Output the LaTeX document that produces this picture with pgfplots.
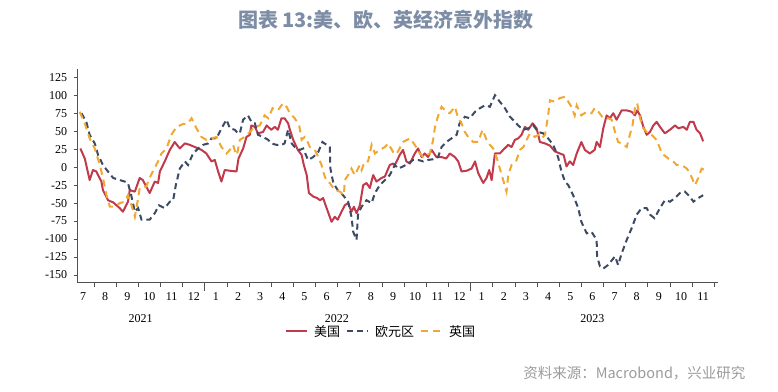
\documentclass[border=0pt]{standalone}
\usepackage{pgfplots}
\pgfplotsset{compat=1.18}
\usepackage{fontspec}
\newfontfamily\tickfont{Liberation Serif}
\newfontfamily\cjk{Noto Sans CJK SC}
\definecolor{usred}{RGB}{193,58,76}
\definecolor{eunavy}{RGB}{60,74,100}
\definecolor{ukorange}{RGB}{240,168,50}
\definecolor{titlecol}{RGB}{125,141,165}
\definecolor{srcgray}{RGB}{155,155,155}
\definecolor{axisgray}{RGB}{80,80,80}
\begin{document}
\begin{tikzpicture}
\useasboundingbox (0,0) rectangle (778pt,-391pt);
\node[font=\cjk\bfseries\fontsize{20}{24}\selectfont, text=titlecol] at (386pt,-20pt) {图表 13:美、欧、英经济意外指数};
\node[font=\cjk\fontsize{14.5}{17}\selectfont, text=srcgray, anchor=east] at (749pt,-373pt) {资料来源：Macrobond，兴业研究};
\begin{axis}[
  scale only axis, width=640.3pt, height=213.7pt,
  at={(77.7pt,-282.7pt)}, anchor=south west,
  xmin=0.26, xmax=29.17, ymin=-160.7, ymax=136.5,
  axis x line*=bottom, axis y line*=left,
  xtick pos=bottom, ytick pos=left,
  axis line style={draw=axisgray, line width=0.9pt, -},
  tick align=outside,
  major tick length=0pt, minor tick length=4pt,
  every tick/.style={draw=axisgray, line width=0.8pt},
  ytick={-150,-125,...,125},
  minor ytick={-150,-125,...,125},
  xtick={0.5,1.5,2.5,3.5,4.5,5.5,6.5,7.5,8.5,9.5,10.5,11.5,12.5,13.5,14.5,15.5,16.5,17.5,18.5,19.5,20.5,21.5,22.5,23.5,24.5,25.5,26.5,27.5,28.5},
  xticklabels={7,8,9,10,11,12,1,2,3,4,5,6,7,8,9,10,11,12,1,2,3,4,5,6,7,8,9,10,11},
  minor xtick={1,2,...,29},
  extra x ticks={6,18}, extra x tick labels={},
  extra x tick style={major tick length=8pt},
  /pgf/number format/assume math mode=true,
  xticklabel style={font=\tickfont\fontsize{12}{14}\selectfont, yshift=-6pt},
  yticklabel style={font=\tickfont\fontsize{12}{14}\selectfont, xshift=-7pt},
  clip mode=individual,
  legend columns=3,
  legend style={at={(0.4737,-0.228)}, anchor=center, draw=none, fill=none,
    font=\cjk\fontsize{13}{15}\selectfont, column sep=4pt, inner sep=0pt},
  legend image code/.code={\draw[#1] (0pt,0pt) -- (21pt,0pt);},
]
\addplot[usred, line width=2pt, line join=round] coordinates {
(0.38,26)(0.58,12)(0.8,-18)(0.95,-4)(1.1,-6)(1.33,-20)(1.4,-32)(1.63,-46)(1.86,-49)(2.16,-57)(2.3,-62)(2.53,-48)(2.61,-32)(2.84,-34)(3.06,-15)(3.2,-18)(3.51,-36)(3.74,-20)(3.89,-22)(3.97,-6)(4.19,8)(4.42,24)(4.64,35)(4.87,26)(5.1,33)(5.32,31)(5.55,28)(5.85,24)(6.07,19)(6.3,8)(6.45,10)(6.6,-6)(6.75,-20)(6.9,-4)(7.13,-5)(7.43,-6)(7.52,12)(7.73,26)(7.88,42)(8.03,45)(8.1,58)(8.26,56)(8.4,47)(8.63,49)(8.79,58)(9.0,52)(9.16,56)(9.3,52)(9.46,68)(9.6,68)(9.76,61)(9.84,52)(9.99,38)(10.2,24)(10.37,17)(10.47,3)(10.6,-11)(10.7,-36)(10.9,-41)(11.07,-43)(11.2,-46)(11.34,-43)(11.5,-57)(11.64,-69)(11.72,-76)(11.87,-69)(12.0,-73)(12.17,-62)(12.32,-53)(12.47,-50)(12.62,-62)(12.73,-55)(12.85,-64)(13.0,-53)(13.15,-25)(13.3,-22)(13.45,-29)(13.6,-11)(13.75,-20)(13.98,-15)(14.13,-13)(14.35,3)(14.5,5)(14.58,3)(14.8,17)(14.95,24)(15.1,8)(15.26,5)(15.48,19)(15.63,26)(15.79,14)(15.93,19)(16.08,14)(16.24,24)(16.46,14)(16.69,14)(16.9,12)(17.06,19)(17.29,14)(17.44,8)(17.59,-6)(17.82,-5)(18.04,-2)(18.2,8)(18.34,-8)(18.57,-22)(18.72,-15)(18.84,-4)(18.95,-18)(19.1,19)(19.32,19)(19.47,24)(19.7,31)(19.85,28)(20.0,38)(20.15,40)(20.3,45)(20.45,56)(20.6,52)(20.8,61)(20.98,54)(21.13,35)(21.36,33)(21.58,30)(21.8,22)(22.03,19)(22.2,17)(22.33,1)(22.48,8)(22.63,3)(22.79,19)(23.0,35)(23.16,24)(23.38,19)(23.6,24)(23.69,35)(23.84,28)(23.99,54)(24.14,72)(24.29,68)(24.44,75)(24.59,66)(24.82,79)(25.05,79)(25.27,77)(25.42,72)(25.52,79)(25.65,72)(25.8,56)(25.95,45)(26.1,49)(26.25,58)(26.4,63)(26.55,56)(26.77,47)(27.0,52)(27.23,58)(27.38,54)(27.6,56)(27.76,52)(27.9,63)(28.06,63)(28.2,52)(28.36,47)(28.5,36)
};
\addlegendentry{美国}
\addplot[eunavy, line width=2pt, dash pattern=on 6pt off 4pt] coordinates {
(0.43,75)(0.65,63)(0.8,45)(1.03,33)(1.18,17)(1.4,3)(1.6,-5)(1.86,-15)(2.16,-18)(2.38,-20)(2.53,-22)(2.69,-41)(2.84,-62)(2.99,-57)(3.14,-73)(3.51,-73)(3.74,-64)(3.93,-53)(4.19,-57)(4.42,-48)(4.57,-46)(4.69,-25)(4.87,-2)(5.1,8)(5.24,3)(5.47,19)(5.7,26)(5.92,31)(6.15,33)(6.3,40)(6.53,40)(6.75,54)(6.98,66)(7.13,54)(7.35,52)(7.5,47)(7.58,47)(7.73,66)(7.95,72)(8.1,63)(8.26,61)(8.4,45)(8.63,42)(8.86,38)(9.0,33)(9.24,31)(9.46,31)(9.6,33)(9.76,52)(9.92,33)(10.06,28)(10.29,24)(10.44,26)(10.66,10)(10.89,14)(11.12,21)(11.31,35)(11.64,28)(11.67,-2)(11.8,-22)(12.0,-32)(12.24,-39)(12.47,-48)(12.62,-69)(12.7,-90)(12.85,-101)(12.92,-64)(13.08,-55)(13.3,-46)(13.53,-50)(13.68,-36)(13.9,-25)(14.13,-18)(14.35,-11)(14.58,3)(14.73,-2)(14.95,1)(15.18,5)(15.4,10)(15.63,10)(15.86,8)(16.08,10)(16.3,11)(16.53,14)(16.69,28)(16.9,35)(17.14,40)(17.37,45)(17.5,61)(17.74,70)(17.96,68)(18.2,77)(18.42,82)(18.65,86)(18.87,84)(19.1,100)(19.32,91)(19.55,82)(19.78,70)(20.0,63)(20.15,58)(20.37,52)(20.6,54)(20.83,58)(21.05,49)(21.28,47)(21.5,40)(21.73,31)(21.95,14)(22.1,-6)(22.26,-20)(22.41,-25)(22.63,-39)(22.86,-57)(23.0,-76)(23.24,-92)(23.46,-90)(23.69,-101)(23.71,-124)(23.84,-138)(23.99,-141)(24.21,-136)(24.52,-124)(24.66,-136)(24.82,-120)(25.05,-101)(25.27,-85)(25.5,-66)(25.72,-57)(25.95,-57)(26.1,-66)(26.3,-71)(26.55,-57)(26.77,-46)(27.0,-48)(27.23,-43)(27.45,-36)(27.67,-34)(27.9,-41)(28.06,-48)(28.28,-43)(28.5,-39)
};
\addlegendentry{欧元区}
\addplot[ukorange, line width=2pt, dash pattern=on 7pt off 5pt] coordinates {
(0.35,77)(0.58,61)(0.8,40)(1.03,26)(1.26,3)(1.4,-15)(1.56,-39)(1.71,-55)(1.93,-55)(2.16,-50)(2.38,-48)(2.53,-39)(2.69,-53)(2.84,-69)(2.95,-50)(3.06,-29)(3.2,-29)(3.35,-27)(3.51,-15)(3.65,-6)(3.89,8)(4.04,19)(4.27,26)(4.49,45)(4.72,56)(5.02,60)(5.24,61)(5.4,68)(5.62,54)(5.85,42)(6.07,38)(6.3,40)(6.53,42)(6.75,28)(6.98,19)(7.13,24)(7.28,31)(7.38,20)(7.45,17)(7.58,38)(7.8,42)(8.03,49)(8.26,56)(8.48,58)(8.7,72)(8.86,68)(9.06,82)(9.3,79)(9.53,89)(9.69,84)(9.84,75)(10.06,68)(10.26,58)(10.37,38)(10.51,42)(10.6,38)(10.74,28)(10.97,24)(11.12,14)(11.27,3)(11.34,-6)(11.5,-20)(11.64,-22)(11.87,-32)(12.1,-34)(12.28,-39)(12.32,-18)(12.47,-11)(12.62,-2)(12.77,-11)(13.0,3)(13.08,-4)(13.22,8)(13.37,8)(13.53,31)(13.68,19)(13.9,24)(14.13,28)(14.28,33)(14.5,21)(14.65,18)(14.95,35)(15.26,40)(15.48,31)(15.71,19)(15.86,14)(16.01,17)(16.16,19)(16.31,38)(16.39,56)(16.54,72)(16.69,84)(16.91,77)(17.06,75)(17.29,84)(17.44,68)(17.59,61)(17.74,49)(17.89,42)(18.12,35)(18.34,35)(18.54,52)(18.72,38)(18.87,31)(19.02,26)(19.17,14)(19.32,-2)(19.47,-18)(19.62,-34)(19.7,-11)(19.85,3)(20.05,8)(20.23,24)(20.38,28)(20.53,38)(20.68,47)(20.9,42)(21.05,45)(21.2,40)(21.36,45)(21.5,72)(21.58,93)(21.8,91)(22.03,96)(22.26,98)(22.41,91)(22.55,84)(22.7,72)(22.79,86)(23.0,72)(23.24,77)(23.46,75)(23.6,82)(23.77,77)(23.99,68)(24.21,68)(24.37,66)(24.52,49)(24.66,35)(24.82,33)(25.05,28)(25.19,45)(25.31,58)(25.42,82)(25.52,89)(25.65,68)(25.8,54)(25.95,49)(26.17,45)(26.4,38)(26.55,26)(26.63,19)(26.85,14)(27.0,10)(27.15,8)(27.3,3)(27.53,3)(27.76,-2)(27.9,-8)(28.13,-25)(28.28,-15)(28.43,-2)(28.58,-4)
};
\addlegendentry{英国}
\node[font=\tickfont\fontsize{12}{14}\selectfont] at (axis cs:3.1,-160.7) [yshift=-35.5pt] {2021};
\node[font=\tickfont\fontsize{12}{14}\selectfont] at (axis cs:11.96,-160.7) [yshift=-35.5pt] {2022};
\node[font=\tickfont\fontsize{12}{14}\selectfont] at (axis cs:23.5,-160.7) [yshift=-35.5pt] {2023};
\end{axis}
\end{tikzpicture}
\end{document}
